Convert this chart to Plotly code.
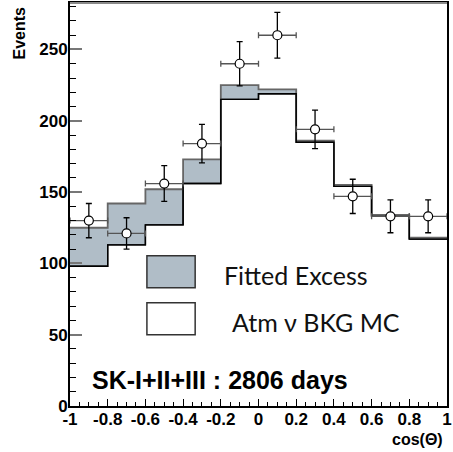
import plotly.graph_objects as go

# bin edges of cos(Theta)
edges = [-1.0, -0.8, -0.6, -0.4, -0.2, 0.0, 0.2, 0.4, 0.6, 0.8, 1.0]
centers = [-0.9, -0.7, -0.5, -0.3, -0.1, 0.1, 0.3, 0.5, 0.7, 0.9]
half_width = [0.1] * 10

# Atm nu background MC
bkg = [98, 113, 127, 156, 215, 219, 185, 154, 133, 117]
# background + fitted excess
total = [125, 142, 152, 173, 225, 222, 186, 155, 134, 118]
# data
data = [130, 121, 156, 184, 240, 260, 194, 147, 133, 133]
err = [12, 11, 12.5, 13.5, 15.5, 16, 13.5, 12, 11.5, 11.5]

x_ticks = [-1, -0.8, -0.6, -0.4, -0.2, 0, 0.2, 0.4, 0.6, 0.8, 1]
x_ticktext = ["-1", "-0.8", "-0.6", "-0.4", "-0.2", "0", "0.2", "0.4", "0.6", "0.8", "1"]
y_ticks = [0, 50, 100, 150, 200, 250]

FILL = "#b0bdc7"
BOLD = "Liberation Sans, Arial, sans-serif"

def steps(vals):
    return edges, list(vals) + [vals[-1]]

fig = go.Figure()
xb, yb = steps(bkg)
xt, yt = steps(total)
fig.add_trace(go.Scatter(x=xb, y=yb, mode="lines", line=dict(shape="hv", color="black", width=1.4),
                         showlegend=False, hoverinfo="skip"))
fig.add_trace(go.Scatter(x=xt, y=yt, mode="lines", line=dict(shape="hv", color="#666666", width=1.8),
                         fill="tonexty", fillcolor=FILL, showlegend=False, hoverinfo="skip"))
fig.add_trace(go.Scatter(x=xb, y=yb, mode="lines", line=dict(shape="hv", color="black", width=1.4),
                         showlegend=False, hoverinfo="skip"))
fig.add_trace(go.Scatter(
    x=centers, y=data, mode="markers",
    marker=dict(symbol="circle", size=9, color="white", line=dict(color="black", width=1.2)),
    error_y=dict(type="data", array=err, visible=True, color="black", thickness=1.3, width=3),
    error_x=dict(type="data", array=half_width, visible=True, color="#555555", thickness=1.3, width=3),
    showlegend=False))

# legend boxes
fig.add_shape(type="rect", xref="paper", yref="paper", x0=0.204, x1=0.332, y0=0.2933, y1=0.3727,
              fillcolor=FILL, line=dict(color="#333333", width=1.5))
fig.add_shape(type="rect", xref="paper", yref="paper", x0=0.204, x1=0.332, y0=0.1767, y1=0.256,
              fillcolor="white", line=dict(color="#333333", width=1.5))
# top frame in grey
fig.add_shape(type="line", xref="paper", yref="paper", x0=0, x1=1, y0=1, y1=1,
              line=dict(color="#8a8a8a", width=2))

LEG = "Lato, Liberation Sans, sans-serif"
fig.add_annotation(text="Fitted Excess", xref="paper", yref="paper", x=0.403, y=0.3256,
                   xanchor="left", yanchor="middle", showarrow=False,
                   font=dict(family=LEG, size=25, color="#111111"))
fig.add_annotation(text="Atm \u03bd BKG MC", xref="paper", yref="paper", x=0.424, y=0.209,
                   xanchor="left", yanchor="middle", showarrow=False,
                   font=dict(family=LEG, size=25, color="#111111"))
fig.add_annotation(text="<b>SK-I+II+III : 2806 days</b>", xref="paper", yref="paper", x=0.3966, y=0.065,
                   xanchor="center", yanchor="middle", showarrow=False,
                   font=dict(family=BOLD, size=25, color="black"))
fig.add_annotation(text="<b>Events</b>", xref="paper", yref="paper", x=-0.1335, y=0.926,
                   xanchor="center", yanchor="middle", textangle=-90, showarrow=False,
                   font=dict(family=BOLD, size=16, color="black"))
fig.add_annotation(text="<b>cos(\u0398)</b>", xref="paper", yref="paper", x=0.995, y=-0.083,
                   xanchor="right", yanchor="middle", showarrow=False,
                   font=dict(family=BOLD, size=16, color="black"))

fig.update_xaxes(range=[-1, 1], showgrid=False, zeroline=False,
                 showline=True, linecolor="black", linewidth=2, mirror=True,
                 ticks="inside", ticklen=7, tickwidth=1, tickcolor="black",
                 tickvals=x_ticks, ticktext=x_ticktext, ticklabeloverflow="allow",
                 ticklabelstandoff=-3,
                 minor=dict(dtick=0.05, tick0=-1, ticks="inside", ticklen=4, tickcolor="black", tickwidth=1),
                 tickfont=dict(family=BOLD, size=17, color="black", weight="bold"))
fig.update_yaxes(range=[0, 282.6], showgrid=False, zeroline=False,
                 showline=True, linecolor="black", linewidth=2, mirror=True,
                 ticks="inside", ticklen=12, tickwidth=2, tickcolor="#777777",
                 tickvals=y_ticks, ticklabelstandoff=-3,
                 minor=dict(dtick=10, ticks="inside", ticklen=6, tickcolor="black", tickwidth=1),
                 tickfont=dict(family=BOLD, size=17, color="black", weight="bold"))

fig.update_layout(width=453, height=452, margin=dict(l=70, r=1, t=3, b=46),
                  paper_bgcolor="white", plot_bgcolor="white")
fig.write_html("out.html")
